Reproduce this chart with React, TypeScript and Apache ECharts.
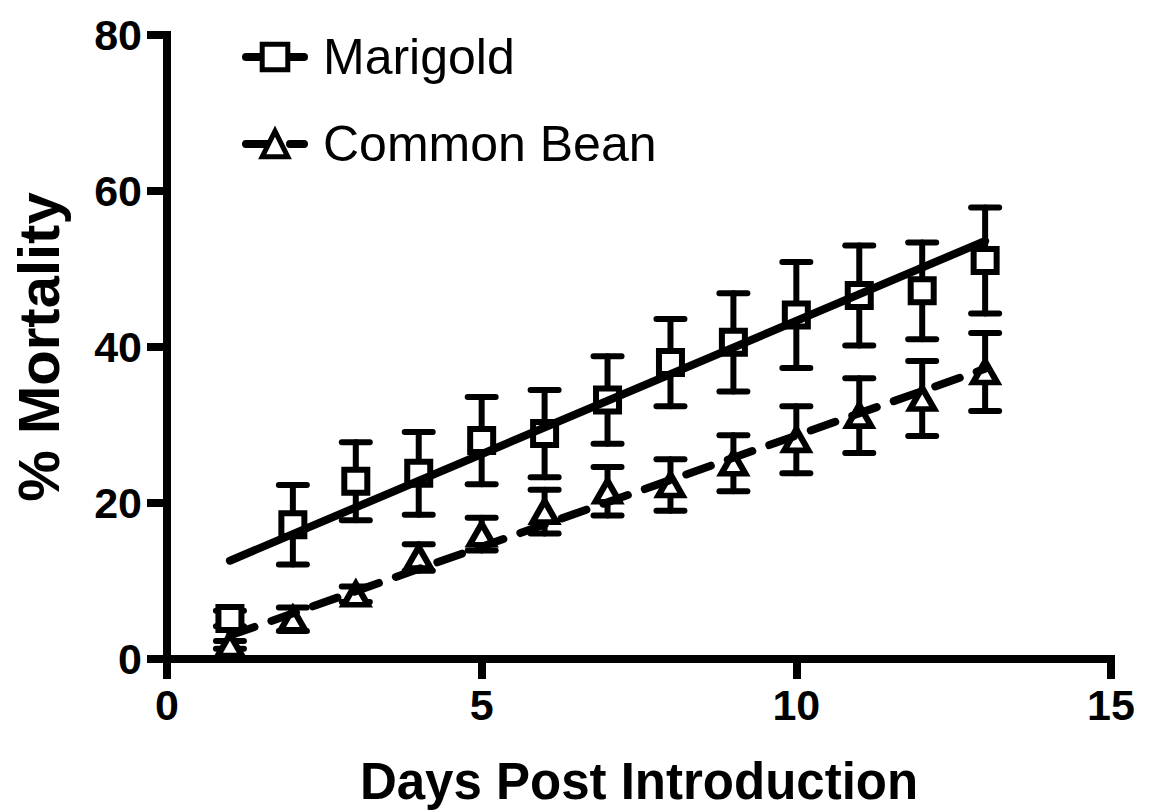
import React, { useEffect, useRef } from "react";
import * as echarts from "echarts";

const days = [1, 2, 3, 4, 5, 6, 7, 8, 9, 10, 11, 12, 13];
const marigoldMean = [5.2, 17.2, 22.8, 23.8, 28.0, 28.9, 33.2, 38.0, 40.6, 44.1, 46.6, 47.2, 51.1];
const marigoldErr = [1.0, 5.1, 5.0, 5.3, 5.6, 5.6, 5.6, 5.6, 6.3, 6.8, 6.4, 6.2, 6.8];
const beanMean = [1.8, 5.1, 8.3, 13.0, 16.0, 18.9, 21.5, 22.3, 25.1, 28.1, 31.2, 33.4, 36.8];
const beanErr = [0.5, 1.5, 1.0, 1.7, 2.1, 2.8, 3.1, 3.3, 3.6, 4.3, 4.8, 4.8, 5.0];
const marigoldFit = [[1, 12.6], [13, 53.6]];
const beanFit = [[1, 3.0], [13, 37.2]];
const seriesNames = ["Marigold", "Common Bean"];
const xTicks = { min: 0, max: 15, interval: 5 };
const yTicks = { min: 0, max: 80, interval: 20 };

const FONT = '"Liberation Sans", Arial, Helvetica, sans-serif';

function errorBarSeries(name: string, mean: number[], err: number[]) {
  return {
    name,
    type: "custom",
    z: 1,
    data: days.map((d, i) => [d, mean[i] - err[i], mean[i] + err[i]]),
    renderItem: (params: any, api: any) => {
      const x = api.value(0);
      const top = api.coord([x, api.value(2)]);
      const bot = api.coord([x, api.value(1)]);
      const hw = 14;
      const st = { stroke: "#000", lineWidth: 6, lineCap: "round" };
      return {
        type: "group",
        children: [
          { type: "line", shape: { x1: top[0], y1: top[1], x2: bot[0], y2: bot[1] }, style: st },
          { type: "line", shape: { x1: top[0] - hw, y1: top[1], x2: top[0] + hw, y2: top[1] }, style: st },
          { type: "line", shape: { x1: bot[0] - hw, y1: bot[1], x2: bot[0] + hw, y2: bot[1] }, style: st },
        ],
      };
    },
  };
}

export default function App() {
  const ref = useRef<HTMLDivElement>(null);
  useEffect(() => {
    document.body.style.margin = "0";
    const chart = echarts.init(ref.current!, null, { renderer: "svg" });
    const markerStyle = { color: "#fff", borderColor: "#000", borderWidth: 6, opacity: 1 };
    chart.setOption({
      animation: false,
      backgroundColor: "#fff",
      grid: { left: 167, right: 43, top: 35, bottom: 150, containLabel: false },
      legend: {
        orient: "vertical",
        left: 237,
        top: 27,
        itemWidth: 58,
        itemHeight: 32,
        itemGap: 37,
        data: seriesNames,
        itemStyle: { color: "#fff", borderColor: "#000", borderWidth: 5 },
        lineStyle: { color: "#000", width: 8 },
        textStyle: {
          fontFamily: FONT,
          fontSize: 50,
          lineHeight: 50,
          color: "#000",
          padding: [0, 0, 0, 14],
        },
      },
      xAxis: {
        type: "value",
        ...xTicks,
        name: "Days Post Introduction",
        nameLocation: "middle",
        nameGap: 97,
        nameTextStyle: { fontFamily: FONT, fontSize: 51, fontWeight: "bold", color: "#000" },
        splitLine: { show: false },
        axisLine: { show: true, lineStyle: { color: "#000", width: 8, cap: "square" } },
        axisTick: { show: true, length: 20, lineStyle: { color: "#000", width: 8 } },
        axisLabel: { fontFamily: FONT, fontSize: 43, fontWeight: "bold", color: "#000", margin: 24 },
      },
      yAxis: {
        type: "value",
        ...yTicks,
        name: "% Mortality",
        nameLocation: "middle",
        nameGap: 100,
        nameTextStyle: { fontFamily: FONT, fontSize: 58, fontWeight: "bold", color: "#000" },
        splitLine: { show: false },
        axisLine: { show: true, lineStyle: { color: "#000", width: 8, cap: "square" } },
        axisTick: { show: true, length: 20, lineStyle: { color: "#000", width: 8 } },
        axisLabel: { fontFamily: FONT, fontSize: 43, fontWeight: "bold", color: "#000", margin: 25 },
      },
      series: [
        {
          name: seriesNames[0],
          type: "line",
          z: 5,
          data: marigoldFit,
          symbol: "rect",
          showSymbol: false,
          itemStyle: markerStyle,
          lineStyle: { color: "#000", width: 8, cap: "round" },
        },
        {
          name: seriesNames[1],
          type: "line",
          z: 5,
          data: beanFit,
          symbol: "triangle",
          showSymbol: false,
          itemStyle: markerStyle,
          lineStyle: { color: "#000", width: 8, type: [26, 18], cap: "round" },
        },
        errorBarSeries(seriesNames[0], marigoldMean, marigoldErr),
        errorBarSeries(seriesNames[1], beanMean, beanErr),
        {
          name: seriesNames[0],
          type: "scatter",
          z: 3,
          symbol: "rect",
          symbolSize: 23,
          itemStyle: markerStyle,
          data: days.map((d, i) => [d, marigoldMean[i]]),
        },
        {
          name: seriesNames[1],
          type: "scatter",
          z: 3,
          symbol: "triangle",
          symbolSize: [24, 21],
          itemStyle: markerStyle,
          data: days.map((d, i) => [d, beanMean[i]]),
        },
      ],
    });
    return () => chart.dispose();
  }, []);
  return <div ref={ref} style={{ width: 1154, height: 812 }} />;
}
